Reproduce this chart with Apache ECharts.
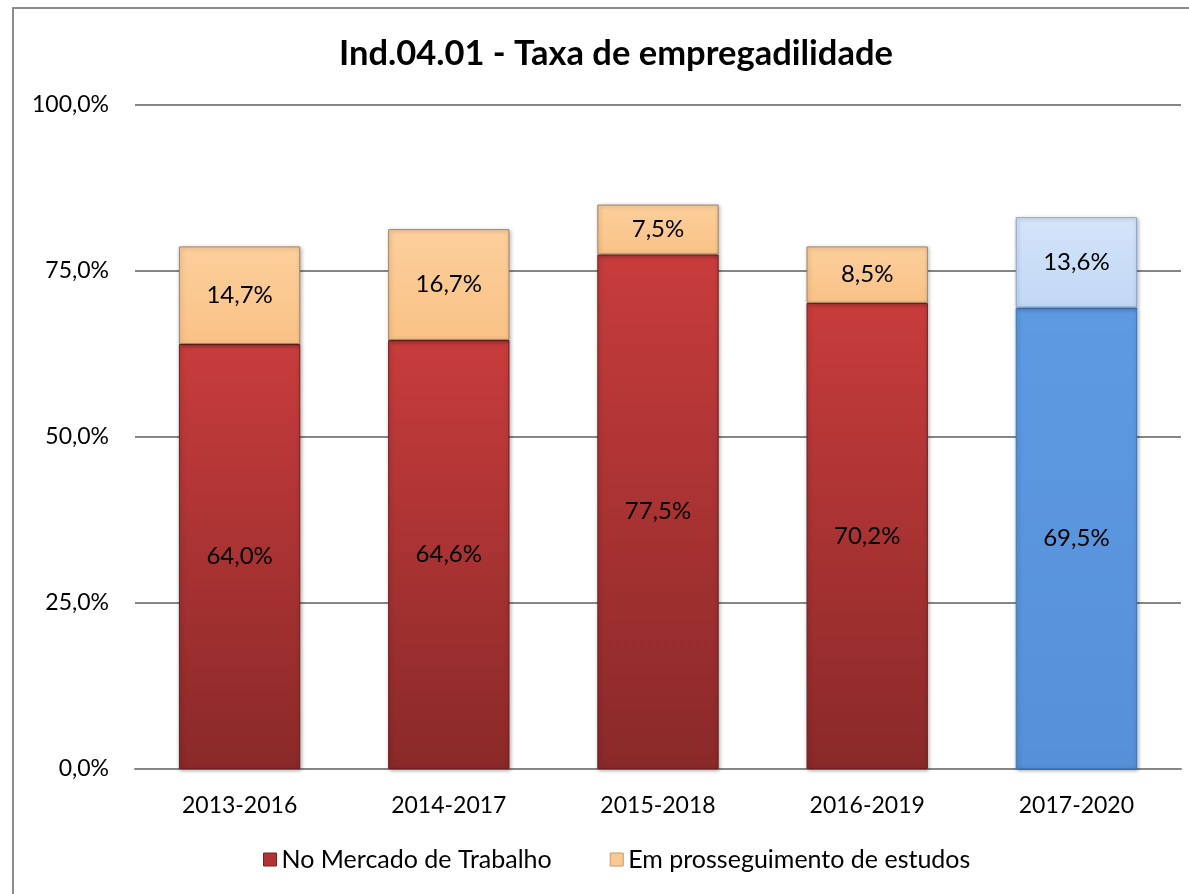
<!DOCTYPE html>
<html>
<head>
<meta charset="utf-8">
<script src="https://cdn.jsdelivr.net/npm/echarts@6/dist/echarts.min.js"></script>
<style>
  html, body { margin: 0; padding: 0; background: #fff; }
  #frame { position: absolute; left: 12px; top: 7px; width: 1190px; height: 900px; border: 2px solid #8c8c8c; box-sizing: border-box; }
  #chart { position: absolute; left: 0; top: 0; width: 1189px; height: 894px; }
</style>
</head>
<body>
<div id="frame"></div>
<div id="chart"></div>
<script>
var categories = ['2013-2016', '2014-2017', '2015-2018', '2016-2019', '2017-2020'];
var mercado = [64.0, 64.6, 77.5, 70.2, 69.5];
var estudos = [14.7, 16.7, 7.5, 8.5, 13.6];
var yTicks = [0, 25, 50, 75, 100];

function pct(v) {
	return v.toFixed(1).replace('.', ',') + '%';
}
function grad(top, bottom) {
	return new echarts.graphic.LinearGradient(0, 0, 0, 1, [
		{ offset: 0, color: top },
		{ offset: 1, color: bottom }
	]);
}

var redFill = grad('#c83c3c', '#8a2929');
var orangeFill = grad('#fccf9c', '#f9c286');
var blueFill = grad('#5d9ae2', '#5690d8');
var lightBlueFill = grad('#d4e4fa', '#c2d8f5');

var myChart = echarts.init(document.getElementById('chart'));
var option = {
	animation: false,
	title: {
		text: 'Ind.04.01 - Taxa de empregadilidade',
		left: 334,
		top: 31,
		textStyle: { fontFamily: 'Lato', fontWeight: 'bold', fontSize: 34.5, color: '#000' }
	},
	legend: {
		bottom: 17,
		left: 258,
		itemGap: 58,
		itemWidth: 13,
		itemHeight: 13,
		textStyle: { fontFamily: 'Lato', fontSize: 25, color: '#000' },
		data: [
			{ name: 'No Mercado de Trabalho', icon: 'rect', itemStyle: { color: '#b23333', borderColor: '#7a2222', borderWidth: 1 } },
			{ name: 'Em prosseguimento de estudos', icon: 'rect', itemStyle: { color: '#fac890', borderColor: '#c9986a', borderWidth: 1 } }
		]
	},
	grid: { left: 135, right: 8, top: 105, bottom: 125 },
	xAxis: {
		type: 'category',
		data: categories,
		axisTick: { show: false },
		axisLine: { lineStyle: { color: '#868686', width: 2 } },
		axisLabel: { fontFamily: 'Lato', fontSize: 23, color: '#000', margin: 25 }
	},
	yAxis: {
		type: 'value',
		min: yTicks[0],
		max: yTicks[yTicks.length - 1],
		interval: 25,
		axisLine: { show: false },
		axisTick: { show: false },
		splitLine: { lineStyle: { color: '#868686', width: 2 } },
		axisLabel: { fontFamily: 'Lato', fontSize: 23, color: '#000', margin: 26, formatter: function (v) { return pct(v); } }
	},
	series: [
		{
			name: 'No Mercado de Trabalho',
			type: 'bar',
			stack: 'total',
			barWidth: '58%',
			data: mercado.map(function (v, i) {
				var last = i === categories.length - 1;
				return {
					value: v,
					itemStyle: {
						color: last ? blueFill : redFill,
						borderColor: last ? '#3f76b8' : '#6e1f1f',
						borderWidth: 1,
						shadowColor: 'rgba(0,0,0,0.35)',
						shadowBlur: 4,
						shadowOffsetX: 1,
						shadowOffsetY: 1
					}
				};
			}),
			label: {
				show: true,
				position: 'inside',
				fontFamily: 'Lato',
				fontSize: 24,
				color: '#000',
				formatter: function (p) { return pct(p.value); }
			}
		},
		{
			name: 'Em prosseguimento de estudos',
			type: 'bar',
			stack: 'total',
			barWidth: '58%',
			data: estudos.map(function (v, i) {
				var last = i === categories.length - 1;
				return {
					value: v,
					itemStyle: {
						color: last ? lightBlueFill : orangeFill,
						borderColor: last ? '#8ea6c6' : '#a58462',
						borderWidth: 1,
						shadowColor: 'rgba(0,0,0,0.3)',
						shadowBlur: 4,
						shadowOffsetX: 1,
						shadowOffsetY: 1
					}
				};
			}),
			label: {
				show: true,
				position: 'inside',
				fontFamily: 'Lato',
				fontSize: 24,
				color: '#000',
				formatter: function (p) { return pct(p.value); }
			}
		}
	]
};
myChart.setOption(option);
</script>
</body>
</html>
